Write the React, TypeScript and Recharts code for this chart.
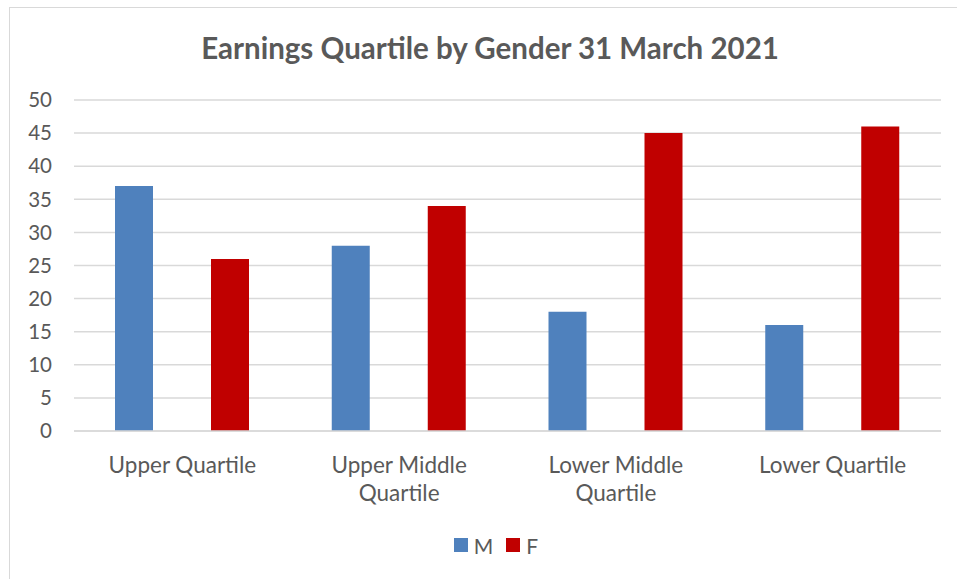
import { BarChart, Bar, CartesianGrid, XAxis, YAxis, Legend } from 'recharts';

const categories = ['Upper Quartile', 'Upper Middle Quartile', 'Lower Middle Quartile', 'Lower Quartile'];
const maleValues = [37, 28, 18, 16];
const femaleValues = [26, 34, 45, 46];
const yTicks = [0, 5, 10, 15, 20, 25, 30, 35, 40, 45, 50];

const FONT = 'Lato, "Open Sans", sans-serif';
const TEXT_COLOR = '#595959';
const M_COLOR = '#4F81BD';
const F_COLOR = '#C00000';

const data = categories.map((name, i) => ({ name, M: maleValues[i], F: femaleValues[i] }));

// long labels wrap after the second word, like the original
function CategoryTick({ x, y, payload }: any) {
    const words = String(payload.value).split(' ');
    const lines = words.length > 2 ? [words.slice(0, 2).join(' '), words.slice(2).join(' ')] : [words.join(' ')];
    return (
        <text x={x} y={y + 34} textAnchor="middle" fill={TEXT_COLOR} style={{ fontFamily: FONT, fontSize: 22.5 }}>
            {lines.map((line, i) => (
                <tspan key={i} x={x} dy={i === 0 ? 0 : 28}>
                    {line}
                </tspan>
            ))}
        </text>
    );
}

function LegendContent() {
    const items = [
        { label: 'M', color: M_COLOR },
        { label: 'F', color: F_COLOR },
    ];
    return (
        <div style={{ height: 40, display: 'flex', justifyContent: 'center', alignItems: 'center', paddingLeft: 50 }}>
            {items.map((item) => (
                <div key={item.label} style={{ display: 'flex', alignItems: 'center', marginRight: 13 }}>
                    <span style={{ width: 14, height: 14, background: item.color, display: 'inline-block', marginRight: 6 }} />
                    <span style={{ fontFamily: FONT, fontSize: 21, color: TEXT_COLOR }}>{item.label}</span>
                </div>
            ))}
        </div>
    );
}

export default function App() {
    return (
        <div style={{ position: 'absolute', left: 0, top: 0, width: 957, height: 579, background: '#fff', overflow: 'hidden' }}>
            <div style={{ position: 'absolute', left: 9, top: 7, width: 970, height: 600, border: '1px solid #d9d9d9' }} />
            <div
                style={{
                    position: 'absolute',
                    left: 0,
                    width: 980,
                    top: 30,
                    textAlign: 'center',
                    fontFamily: FONT,
                    fontWeight: 700,
                    fontSize: 29.5,
                    color: TEXT_COLOR,
                }}
            >
                Earnings Quartile by Gender 31 March 2021
            </div>
            <div style={{ position: 'absolute', left: 0, top: 0 }}>
                <BarChart
                    width={957}
                    height={579}
                    data={data}
                    margin={{ top: 100, right: 16, left: 14, bottom: 14 }}
                    barSize={38}
                    barGap={58}
                >
                    <CartesianGrid vertical={false} stroke="#d9d9d9" strokeWidth={1.5} />
                    <XAxis
                        dataKey="name"
                        height={94}
                        axisLine={{ stroke: '#d9d9d9', strokeWidth: 1.5 }}
                        tickLine={false}
                        tick={<CategoryTick />}
                        interval={0}
                    />
                    <YAxis
                        width={60}
                        domain={[0, 50]}
                        ticks={yTicks}
                        axisLine={false}
                        tickLine={false}
                        tickSize={0}
                        tickMargin={22}
                        tick={{ fill: TEXT_COLOR, fontSize: 20.5, fontFamily: FONT }}
                    />
                    <Legend verticalAlign="bottom" height={40} content={<LegendContent />} />
                    <Bar dataKey="M" fill={M_COLOR} isAnimationActive={false} />
                    <Bar dataKey="F" fill={F_COLOR} isAnimationActive={false} />
                </BarChart>
            </div>
        </div>
    );
}
